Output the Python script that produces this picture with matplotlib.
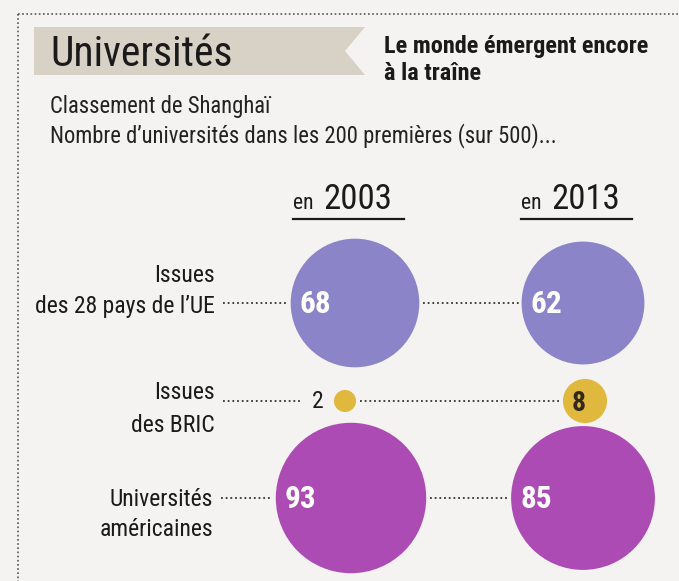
import numpy as np
import matplotlib
matplotlib.use('Agg')
import matplotlib.pyplot as plt
from matplotlib.patches import Circle, Polygon

plt.rcParams['font.family'] = ['Roboto Condensed', 'Roboto', 'DejaVu Sans']

# Classement de Shanghai: universities in the top 200
years = ['2003', '2013']
ue = [68, 62]
bric = [2, 8]
usa = [93, 85]
row_labels = [['Issues', 'des 28 pays de l\u2019UE'],
              ['Issues', 'des BRIC'],
              ['Universit\u00e9s', 'am\u00e9ricaines']]

paper = '#f4f3f1'
ink = '#1a1a1a'
col_ue = '#8b84c9'
col_bric = '#e1b83e'
col_usa = '#ad4bb4'

W, H = 679, 581
fig = plt.figure(figsize=(W / 100, H / 100), dpi=100, facecolor=paper)
ax = fig.add_axes([0, 0, 1, 1])
ax.set_xlim(0, W)
ax.set_ylim(H, 0)
ax.set_aspect('equal')
ax.axis('off')
ax.set_facecolor(paper)

# dotted frame
ax.plot([18, 18], [14, H], ls=(0, (1, 1.5)), color='#555555', lw=1.2)
ax.plot([18, W], [14, 14], ls=(0, (1, 1.5)), color='#555555', lw=1.2)

# title ribbon
ribbon = Polygon([(34, 27), (365, 27), (345, 51), (365, 75), (34, 75)],
                 closed=True, facecolor='#d8d1c6', edgecolor='none')
ax.add_patch(ribbon)
ax.text(50, 66, 'Universit\u00e9s', fontsize=30, color=ink, va='baseline')
ax.text(384, 53, 'Le monde \u00e9mergent encore', fontsize=17.5, fontweight='bold',
        color=ink, va='baseline')
ax.text(384, 80, '\u00e0 la tra\u00eene', fontsize=17.5, fontweight='bold',
        color=ink, va='baseline')
ax.text(50, 113, 'Classement de Shangha\u00ef', fontsize=16.3, color='#222222', va='baseline')
ax.text(50, 142, 'Nombre d\u2019universit\u00e9s dans les 200 premi\u00e8res (sur 500)...',
        fontsize=16.3, color='#222222', va='baseline')

# column headers
col_x = [355, 583]
for cx, yr in zip(col_x, years):
    ax.text(cx - 62, 209, 'en', fontsize=15.5, color=ink, va='baseline', ha='left')
    ax.text(cx - 32, 209, yr, fontsize=25, color=ink, va='baseline', ha='left')
    ax.plot([cx - 62, cx + 49], [219, 219], color=ink, lw=1.6)

# bubbles: area proportional to the count
k = 7.8
row_y = [303, 401, 498]
series = [ue, bric, usa]
colors = [col_ue, col_bric, col_usa]
x_shift = [[0, 0], [-10, 2], [-4, 0]]
dots = dict(ls=(0, (1, 1.6)), color='#333333', lw=1.3)

centres = []
for vals, y, c, dx in zip(series, row_y, colors, x_shift):
    radii = [k * np.sqrt(v) for v in vals]
    xs = [cx + d for cx, d in zip(col_x, dx)]
    centres.append((xs, radii))
    for x, r in zip(xs, radii):
        ax.add_patch(Circle((x, y), r, facecolor=c, edgecolor='none'))
    # connector between the two years
    ax.plot([xs[0] + radii[0] + 4, xs[1] - radii[1] - 3], [y, y], **dots)

# value labels
for i in (0, 2):
    xs, radii = centres[i]
    for x, r, v in zip(xs, radii, series[i]):
        ax.text(x - r + 9, row_y[i] + 10, str(v), fontsize=22.5, fontweight='bold',
                color='white', va='baseline', ha='left')
xs, radii = centres[1]
ax.text(xs[0] - radii[0] - 10, row_y[1] + 7, str(bric[0]), fontsize=17, color=ink,
        va='baseline', ha='right')
ax.text(xs[1] - 6, row_y[1] + 10, str(bric[1]), fontsize=20, fontweight='bold',
        color='#33291a', va='baseline', ha='center')

# row labels with leader dots
label_x = [215, 215, 213]
label_y = [(282, 313), (399, 432), (506, 536)]
lead_end = [centres[0][0][0] - centres[0][1][0] - 4,
            xs[0] - radii[0] - 32,
            centres[2][0][0] - centres[2][1][0] - 5]
for lines, lx, (y1, y2), y, x_end in zip(row_labels, label_x, label_y, row_y, lead_end):
    ax.text(lx, y1, lines[0], fontsize=17, color=ink, va='baseline', ha='right')
    ax.text(lx, y2, lines[1], fontsize=17, color=ink, va='baseline', ha='right')
    ax.plot([lx + 8, x_end], [y, y], **dots)

fig.savefig('out.png', dpi=100, facecolor=paper)
